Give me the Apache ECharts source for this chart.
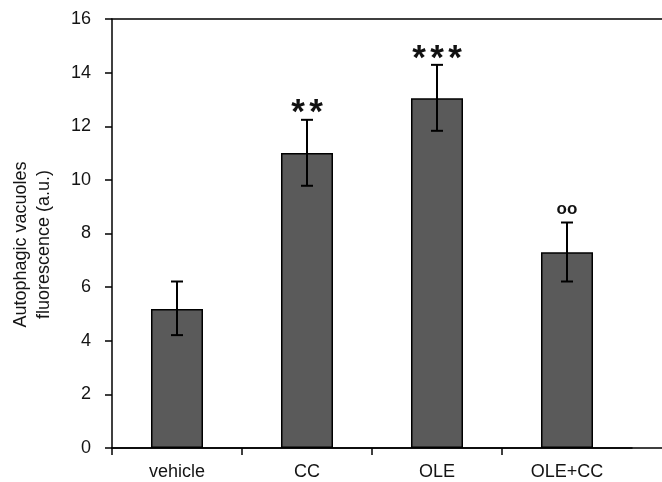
<!DOCTYPE html>
<html lang="en">
<head>
    <meta charset="UTF-8">
    <title>Autophagic vacuoles</title>
    <style>
        html, body { margin: 0; padding: 0; background: #fff; }
        #chart { width: 662px; height: 482px; }
    </style>
</head>
<body>
    <div id="chart"></div>
    <script src="https://cdn.jsdelivr.net/npm/echarts@6/dist/echarts.min.js"></script>
    <script>
        let groups = ['vehicle', 'CC', 'OLE', 'OLE+CC']
        let means = [5.18, 11.0, 13.04, 7.3]
        let errLow = [4.21, 9.78, 11.83, 6.21]
        let errHigh = [6.21, 12.24, 14.29, 8.41]
        let marks = ['', '**', '***', 'oo']
        let yTicks = [0, 16, 2]   // min, max, step

        let font = 'Liberation Sans, Arial, sans-serif'
        let chart = echarts.init(document.getElementById('chart'))

        // error bars + significance marks
        let errData = groups.map((g, i) => [i, errLow[i], errHigh[i]])

        function renderErr(params, api) {
            let x = api.value(0)
            let lo = api.coord([x, api.value(1)])
            let hi = api.coord([x, api.value(2)])
            let base = api.coord([x, 0])
            let band = api.size([1, 0])[0]
            let cap = 6
            let style = { stroke: '#000', lineWidth: 2 }
            let children = [
                { type: 'line', shape: { x1: lo[0], y1: lo[1], x2: hi[0], y2: hi[1] }, style: style },
                { type: 'line', shape: { x1: lo[0] - cap, y1: lo[1], x2: lo[0] + cap, y2: lo[1] }, style: style },
                { type: 'line', shape: { x1: hi[0] - cap, y1: hi[1], x2: hi[0] + cap, y2: hi[1] }, style: style },
                // x tick at the left edge of each category only (no tick at the far right)
                { type: 'line', shape: { x1: base[0] - band / 2, y1: base[1], x2: base[0] - band / 2, y2: base[1] + 7 },
                  style: { stroke: '#000', lineWidth: 1.5 } }
            ]
            let txt = marks[x]
            if (txt && txt.indexOf('*') >= 0) {
                // asterisks drawn one by one, they are spaced wide in the original
                let n = txt.length
                for (let k = 0; k < n; k++) {
                    children.push({
                        type: 'text',
                        style: {
                            x: hi[0] + (k - (n - 1) / 2) * 18,
                            y: hi[1] - 14,
                            text: '*',
                            fill: '#111',
                            font: 'bold 35px ' + font,
                            align: 'center',
                            verticalAlign: 'middle'
                        },
                        // the glyph sits high in its box
                        y: 8
                    })
                }
            } else if (txt) {
                children.push({
                    type: 'text',
                    style: {
                        x: hi[0], y: hi[1] - 13,
                        text: txt,
                        fill: '#111',
                        font: 'bold 17px ' + font,
                        align: 'center',
                        verticalAlign: 'middle'
                    }
                })
            }
            return { type: 'group', children: children }
        }

        let option = {
            animation: false,
            textStyle: { fontFamily: font },
            grid: [
                { left: 112, top: 19, width: 520, bottom: 34, outerBoundsMode: 'none', containLabel: false },
                { left: 112, top: 19, right: 0, bottom: 34, outerBoundsMode: 'none', containLabel: false }
            ],
            xAxis: [
                {
                    type: 'category',
                    gridIndex: 0,
                    data: groups,
                    axisLine: { lineStyle: { color: '#000', width: 1.5 } },
                    axisTick: { show: false },
                    axisLabel: { color: '#141414', fontSize: 18, margin: 15, fontFamily: font }
                },
                {
                    type: 'value', gridIndex: 1, position: 'bottom', min: 0, max: 1,
                    axisLine: { show: true, onZero: false, lineStyle: { color: '#000', width: 1.5 } },
                    axisTick: { show: false }, axisLabel: { show: false }, splitLine: { show: false }
                },
                {
                    type: 'value', gridIndex: 1, position: 'top', min: 0, max: 1,
                    axisLine: { show: true, onZero: false, lineStyle: { color: '#000', width: 1.5 } },
                    axisTick: { show: false }, axisLabel: { show: false }, splitLine: { show: false }
                }
            ],
            yAxis: [
                {
                    type: 'value',
                    gridIndex: 0,
                    min: yTicks[0],
                    max: yTicks[1],
                    interval: yTicks[2],
                    name: 'Autophagic vacuoles\nfluorescence (a.u.)',
                    nameLocation: 'middle',
                    nameGap: 56,
                    nameTextStyle: { color: '#141414', fontSize: 18, lineHeight: 23, fontFamily: font, padding: [0, 22, 0, 0] },
                    axisLine: { show: true, lineStyle: { color: '#000', width: 1.5 } },
                    axisTick: { show: true, length: 7, lineStyle: { color: '#000', width: 1.5 } },
                    axisLabel: { color: '#141414', fontSize: 18, margin: 21, fontFamily: font },
                    splitLine: { show: false }
                },
                { type: 'value', gridIndex: 1, show: false, min: 0, max: 1 }
            ],
            series: [
                {
                    type: 'bar',
                    xAxisIndex: 0,
                    yAxisIndex: 0,
                    data: means,
                    barWidth: '40%',
                    itemStyle: { color: '#5a5a5a', borderColor: '#000', borderWidth: 1.5 }
                },
                {
                    type: 'custom',
                    xAxisIndex: 0,
                    yAxisIndex: 0,
                    data: errData,
                    renderItem: renderErr,
                    clip: false,
                    z: 5
                }
            ]
        }
        chart.setOption(option)
    </script>
</body>
</html>
